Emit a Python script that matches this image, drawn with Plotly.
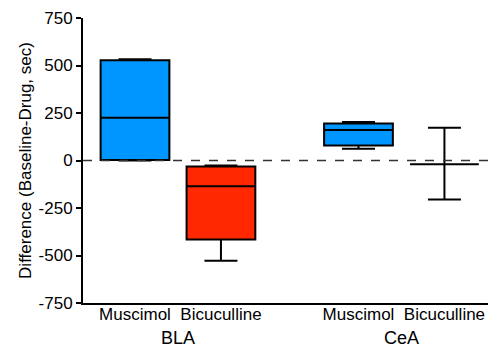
import plotly.graph_objects as go

regions = ["BLA", "BLA", "CeA", "CeA"]
drugs = ["Muscimol", "Bicuculline", "Muscimol", "Bicuculline"]
positions = [0, 1, 2.6, 3.6]
lower_fence = [0, -528, 62, -205]
q1 = [3, -416, 79, -20]
median = [225, -135, 160, -20]
q3 = [528, -32, 195, -20]
upper_fence = [533, -26, 202, 172]
colors = ["#0096FF", "#FF2800", "#0096FF", "#FF2800"]
y_ticks = [-750, -500, -250, 0, 250, 500, 750]
y_tick_labels = ["-750", "-500", "-250", "0", "250", "500", "750"]

FONT = "Liberation Sans, Arial, sans-serif"

fig = go.Figure()
for i in range(len(drugs)):
    fig.add_trace(go.Box(
        x=[positions[i]], q1=[q1[i]], median=[median[i]], q3=[q3[i]],
        lowerfence=[lower_fence[i]], upperfence=[upper_fence[i]],
        width=0.8, whiskerwidth=0.48,
        fillcolor=colors[i], line=dict(color="black", width=2),
        boxpoints=False, showlegend=False, hoverinfo="skip",
    ))

fig.add_shape(type="line", xref="paper", x0=0, x1=1, yref="y", y0=0, y1=0,
              line=dict(color="#333333", width=1.3, dash="dash"), layer="above")

# group labels
for reg in ["BLA", "CeA"]:
    ps = [p for p, r in zip(positions, regions) if r == reg]
    fig.add_annotation(x=sum(ps) / len(ps), y=0, xref="x", yref="paper",
                       yanchor="middle", text=reg, showarrow=False, yshift=-35,
                       font=dict(family=FONT, size=18, color="black"))

# page body has an 8px margin; figure is sized so it fills the window
fig.update_layout(
    width=488, height=342,
    margin=dict(l=75, r=0, t=10, b=47),
    plot_bgcolor="white", paper_bgcolor="white",
    boxmode="overlay",
    font=dict(family=FONT, size=17, color="black"),
    xaxis=dict(range=[-0.605, 4.2], tickvals=positions, ticktext=drugs,
               showline=True, linecolor="black", linewidth=2, ticks="",
               showgrid=False, zeroline=False, tickfont=dict(size=17),
               ticklabelstandoff=-5, automargin=False),
    yaxis=dict(range=[-750, 750], tickvals=y_ticks, ticktext=y_tick_labels,
               showline=True,
               linecolor="black", linewidth=2, ticks="outside", ticklen=5,
               tickwidth=2, tickcolor="black", showgrid=False, zeroline=False,
               tickfont=dict(size=17), automargin=False,
               title=dict(text="Difference (Baseline-Drug, sec)",
                          font=dict(size=17), standoff=3)),
)

fig.write_html("out.html")
